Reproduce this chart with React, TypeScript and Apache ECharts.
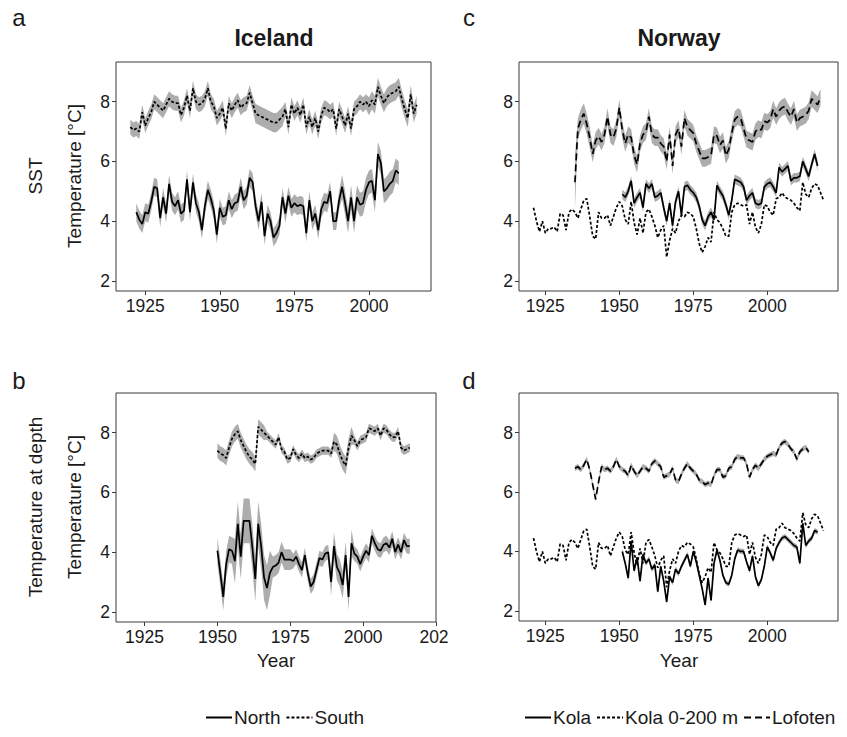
import React, { useEffect, useRef } from "react";
import * as echarts from "echarts";

const FONT = '"Liberation Sans", Arial, Helvetica, sans-serif';
const INK = "#1a1a1a";
const FRAME = "#3a3a3a";
const BAND = "#adadad";

// ---- Iceland, SST (panel a) ----
const icelandNorthSstStart = 1922;
const icelandNorthSst = [
  4.3, 4.05, 3.9, 4.3, 4.25, 4.65, 5.15, 5.1,
  4.1, 4.8, 4.25, 5.25, 4.65, 4.5, 4.7, 4.25, 4.35, 5.4,
  4.3, 5.3, 4.6, 4.3, 3.7, 4.5, 5.05, 4.75, 4.35, 3.55,
  4.45, 4.15, 4.2, 4.7, 4.4, 4.6, 4.65, 5.15, 4.7, 4.85,
  5.45, 5.3, 4.5, 4.0, 4.65, 3.5, 4.25, 4.0, 3.45, 3.6,
  3.85, 4.8, 4.25, 4.85, 4.45, 4.6, 4.5, 4.55, 4.5, 3.6,
  4.7, 4.0, 4.25, 3.7, 4.4, 4.65, 4.6, 5.0, 4.0, 4.0,
  4.7, 5.15, 4.6, 4.0, 4.8, 4.0, 4.8, 4.55, 4.6, 5.05,
  5.3, 5.35, 4.7, 6.25, 5.95, 5.0, 5.1, 5.25, 5.35, 5.7,
  5.6,
];
const icelandNorthSstSd = [[1922, 1990, 0.3], [1991, 2010, 0.4]];

const icelandSouthSstStart = 1920;
const icelandSouthSst = [
  7.15, 7.05, 7.1, 7.0, 7.65, 7.2, 7.45, 7.65, 8.0, 7.9,
  7.8, 7.7, 7.9, 8.1, 8.0, 7.95, 7.95, 7.55, 7.8, 8.2,
  7.7, 8.45, 8.0, 7.9, 7.95, 8.1, 8.45, 8.0, 7.85, 7.45,
  7.6, 7.8, 7.1, 7.95, 7.7, 7.9, 8.05, 7.8, 7.9, 7.95,
  8.3, 7.95, 7.6, 7.55, 7.5, 7.45, 7.4, 7.35, 7.3, 7.3,
  7.4, 7.5, 7.75, 7.15, 7.9, 7.6, 7.8, 7.55, 7.9, 7.15,
  7.5, 7.15, 7.45, 7.0, 7.55, 7.8, 7.75, 7.65, 7.75, 7.1,
  7.75, 7.5, 7.2, 7.6, 7.1, 7.75, 7.85, 8.0, 7.9, 8.0,
  7.85, 8.05, 7.9, 8.5, 8.2, 7.95, 8.15, 8.25, 8.3, 8.35,
  8.5, 8.1, 7.75, 7.45, 8.25, 7.6, 7.9,
];
const icelandSouthSstSd = [[1920, 1961, 0.25], [1962, 1971, 0.32], [1972, 1999, 0.25], [2000, 2016, 0.3]];

// ---- Iceland, temperature at depth (panel b) ----
const icelandNorthDepthStart = 1950;
const icelandNorthDepth = [
  4.05, 3.3, 2.5, 3.6, 4.1, 4.05, 3.7, 4.95, 3.85, 5.05,
  5.05, 5.05, 4.15, 3.1, 4.95, 4.2, 3.15, 2.8, 3.3, 3.5,
  3.55, 3.65, 4.0, 3.75, 3.75, 3.75, 3.7, 3.85, 3.6, 3.4,
  3.9, 3.3, 2.85, 3.0, 3.4, 3.8, 3.75, 3.95, 4.0, 3.0,
  4.2, 3.5, 3.3, 2.9, 3.9, 2.5, 4.3, 3.95, 3.85, 3.6,
  3.85, 4.05, 3.9, 4.55, 4.3, 4.1, 4.05, 4.25, 4.3, 4.15,
  4.45, 4.0, 4.25, 4.0, 4.4, 4.2, 4.2,
];
const icelandNorthDepthSd = [
  [1950, 1955, 0.45], [1956, 1968, 0.75], [1969, 1975, 0.35],
  [1976, 1988, 0.25], [1989, 1996, 0.45], [1997, 2016, 0.25],
];

const icelandSouthDepthStart = 1950;
const icelandSouthDepth = [
  7.4, 7.3, 7.25, 7.15, 7.5, 7.8, 7.95, 8.05, 7.75, 7.55,
  7.35, 7.2, 7.1, 6.95, 8.2, 8.1, 8.0, 7.9, 7.8, 7.7,
  7.6, 7.85, 7.45, 7.35, 7.1, 7.15, 7.45, 7.25, 7.15, 7.3,
  7.15, 7.2, 7.1, 7.15, 7.3, 7.35, 7.4, 7.4, 7.4, 7.3,
  7.7, 7.6, 7.3, 7.05, 6.9, 7.5, 7.9, 7.75, 7.55, 7.75,
  7.8, 7.85, 8.15, 8.1, 8.05, 8.15, 7.9, 8.15, 8.1, 7.95,
  7.85, 7.85, 8.05, 7.5, 7.4, 7.45, 7.5,
];
const icelandSouthDepthSd = [[1950, 1966, 0.25], [1967, 1989, 0.14], [1990, 1996, 0.3], [1997, 2016, 0.15]];

// ---- Norway, SST (panel c) ----
const kolaSstStart = 1951;
const kolaSst = [
  4.9, 4.8, 5.0, 5.35, 4.6, 4.8, 4.95, 4.45, 5.25, 5.1,
  5.25, 4.8, 4.85, 4.95, 4.45, 4.0, 4.6, 3.85, 4.65, 5.0,
  4.2, 5.15, 5.2, 5.05, 4.95, 4.8, 4.5, 4.05, 3.85, 4.15,
  4.3, 4.05, 5.2, 5.0, 4.85, 4.55, 4.2, 4.7, 5.4, 5.35,
  5.3, 5.15, 4.7, 4.85, 4.95, 4.6, 4.55, 4.6, 5.15, 5.25,
  5.3, 5.15, 4.95, 5.8, 5.65, 5.75, 5.85, 5.35, 5.45, 5.45,
  5.5, 6.0, 5.75, 5.5, 5.9, 6.25, 5.85,
];
const kolaSstSd = [[1951, 2017, 0.16]];

// Kola section 0-200 m, shown in both Norway panels
const kola0200Start = 1921;
const kola0200 = [
  4.45, 4.0, 3.65, 4.0, 3.6, 3.75, 3.75, 3.8, 3.65,
  4.25, 4.2, 3.7, 4.3, 4.4, 4.3, 4.1, 4.4, 4.7, 4.75,
  4.15, 3.5, 3.4, 4.3, 4.1, 4.1, 4.2, 3.85, 4.15, 4.45,
  4.65, 4.5, 4.05, 3.9, 4.65, 3.95, 3.55, 4.1, 3.6, 4.3,
  4.4, 4.15, 3.85, 3.45, 3.7, 3.85, 2.8, 3.35, 3.75, 3.6,
  4.0, 4.2, 4.15, 4.3, 4.25, 4.15, 3.75, 3.25, 2.95, 3.15,
  3.45, 3.3, 4.3, 4.05, 3.95, 3.75, 3.5, 3.5, 4.3, 4.55,
  4.6, 4.55, 4.5, 4.55, 3.9, 4.3, 3.8, 3.6, 3.9, 4.55,
  4.5, 4.3, 4.2, 4.75, 4.8, 4.95, 4.8, 4.75, 4.7, 4.6,
  4.45, 4.35, 5.3, 4.9, 4.8, 5.1, 5.25, 5.2, 4.95, 4.7,
];

const lofotenSstStart = 1935;
const lofotenSst = [
  5.3, 7.1, 7.4, 7.6, 7.25, 6.8,
  6.25, 6.7, 6.85, 6.65, 6.9, 7.5, 6.9, 6.8, 7.1, 7.8,
  7.05, 6.6, 6.9, 6.8, 6.2, 5.9, 6.6, 6.9, 7.0, 7.5,
  6.9, 6.8, 6.8, 6.6, 6.5, 6.0, 6.9, 5.85, 6.9, 7.1,
  6.5, 7.45, 7.15, 7.05, 6.95, 6.6, 6.35, 6.1, 6.1, 6.15,
  6.2, 6.9, 6.85, 6.55, 6.7, 6.2, 6.4, 6.95, 7.4, 7.5,
  7.45, 7.1, 6.75, 6.7, 6.65, 7.0, 7.1, 7.05, 7.35, 7.3,
  7.4, 7.75, 7.5, 7.7, 7.8, 7.85, 7.65, 7.5, 7.75, 7.3,
  7.45, 7.5, 7.55, 7.7, 8.1, 8.0, 7.9, 8.15,
];
const lofotenSstSd = [[1935, 1935, 0.9], [1936, 1940, 0.35], [1941, 2018, 0.28]];

// ---- Norway, temperature at depth (panel d) ----
const kolaDepthStart = 1951;
const kolaDepth = [
  4.0, 3.6, 3.1, 4.35, 3.35, 3.8, 3.0, 3.9, 3.6, 3.75,
  3.4, 3.55, 2.65, 3.5, 3.0, 2.3, 3.15, 2.95, 3.4, 3.25,
  3.5, 3.7, 3.9, 3.5, 4.0, 3.65, 3.2, 2.75, 2.2, 3.1,
  2.35, 3.6, 4.05, 3.7, 3.2, 2.95, 2.9, 3.2, 3.75, 4.05,
  4.0, 4.0, 3.65, 3.35, 3.85, 3.15, 2.85, 3.05, 3.5, 4.15,
  3.95, 3.7, 4.1, 4.3, 4.45, 4.5, 4.4, 4.3, 4.2, 4.15,
  3.6, 4.95, 4.2, 4.35, 4.45, 4.7, 4.65,
];
const kolaDepthSd = [[1951, 2017, 0.09]];

const lofotenDepthStart = 1935;
const lofotenDepth = [
  6.8, 6.85, 6.75, 6.9, 7.1,
  6.75, 6.25, 5.75, 6.35, 6.85, 6.75, 6.8, 6.7, 6.85, 7.1,
  6.85, 6.75, 6.7, 6.55, 6.9, 6.7, 6.55, 6.7, 6.85, 6.8,
  6.7, 6.95, 7.05, 6.95, 6.85, 6.5, 6.55, 6.6, 6.8, 6.4,
  6.35, 6.6, 6.8, 6.95, 6.8, 6.7, 6.6, 6.4, 6.35, 6.25,
  6.3, 6.25, 6.55, 6.75, 6.75, 6.5, 6.55, 6.8, 6.85, 7.1,
  7.2, 7.15, 7.15, 6.95, 6.5, 6.75, 6.9, 6.8, 6.95, 7.1,
  7.2, 7.25, 7.3, 7.25, 7.5, 7.65, 7.7, 7.6, 7.45, 7.35,
  7.1, 7.35, 7.45, 7.5, 7.35,
];
const lofotenDepthSd = [[1935, 2014, 0.09]];

// ---- axes ----
const yearTicks = [1925, 1950, 1975, 2000];
const yearTicksWide = [1925, 1950, 1975, 2000, 2025];
const tempTicks = [2, 4, 6, 8];

// panel layout: a, b, c, d
const grids = [
  { left: 116, top: 62, width: 315, height: 229 },
  { left: 116, top: 393, width: 320, height: 229 },
  { left: 519, top: 62, width: 319, height: 229 },
  { left: 519, top: 393, width: 319, height: 228 },
];
const xRanges = [
  [1915.2, 2020.8],
  [1915.2, 2025],
  [1916.1, 2023.9],
  [1916.1, 2023.9],
];
const yRange = [1.66, 9.33];

const SOLID = "solid";
const DOTTED = [3, 2];
const LONGDASH = [7, 4];
const LINE_W = 1.7;

function sdFor(segments: number[][], year: number) {
  for (const s of segments) if (year >= s[0] && year <= s[1]) return s[2];
  return 0;
}

function lineSeries(name: string, start: number, values: number[], grid: number, dash: any) {
  return {
    type: "line",
    name,
    xAxisIndex: grid,
    yAxisIndex: grid,
    data: values.map((v, i) => [start + i, v]),
    symbol: "none",
    z: 4,
    lineStyle: { color: "#000", width: LINE_W, type: dash },
    itemStyle: { color: "#000" },
  };
}

function bandSeries(start: number, values: number[], sd: number[][], grid: number) {
  const rows = values.map((v, i) => {
    const yr = start + i;
    const s = sdFor(sd, yr);
    return [yr, v - s, v + s];
  });
  return {
    type: "custom",
    xAxisIndex: grid,
    yAxisIndex: grid,
    silent: true,
    z: 2,
    data: rows,
    encode: { x: 0, y: [1, 2] },
    renderItem: (params: any, api: any) => {
      if (params.dataIndex !== 0) return null;
      const upper = rows.map((r) => api.coord([r[0], r[2]]));
      const lower = rows
        .slice()
        .reverse()
        .map((r) => api.coord([r[0], r[1]]));
      return {
        type: "polygon",
        shape: { points: upper.concat(lower) },
        style: { fill: BAND, stroke: null },
      };
    },
  };
}

function rotatedText(text: string, x: number, y: number, size: number) {
  return {
    type: "text",
    x,
    y,
    rotation: Math.PI / 2,
    style: {
      text,
      x: 0,
      y: 0,
      align: "center",
      verticalAlign: "middle",
      fontSize: size,
      fontFamily: FONT,
      fill: INK,
    },
  };
}

function plainText(text: string, x: number, y: number, size: number, weight = "normal") {
  return {
    type: "text",
    x,
    y,
    style: {
      text,
      x: 0,
      y: 0,
      align: "center",
      verticalAlign: "middle",
      fontSize: size,
      fontWeight: weight,
      fontFamily: FONT,
      fill: INK,
    },
  };
}

function buildOption() {
  const xAxis = grids.map((_, i) => {
    const ticks = i === 1 ? yearTicksWide : yearTicks;
    return {
      type: "value",
      gridIndex: i,
      min: xRanges[i][0],
      max: xRanges[i][1],
      splitLine: { show: false },
      axisLine: { show: false },
      axisTick: { show: true, length: 4, customValues: ticks, lineStyle: { color: FRAME, width: 1 } },
      axisLabel: {
        customValues: ticks,
        fontSize: 17.5,
        fontFamily: FONT,
        color: INK,
        margin: 6,
        formatter: (v: number) => (v === 2025 ? "{cut|202}" : String(v)),
        rich: { cut: { fontSize: 17.5, fontFamily: FONT, color: INK, padding: [0, 4, 0, 0] } },
      },
    };
  });
  const yAxis = grids.map((_, i) => ({
    type: "value",
    gridIndex: i,
    min: yRange[0],
    max: yRange[1],
    splitLine: { show: false },
    axisLine: { show: false },
    axisTick: { show: true, length: 4, customValues: tempTicks, lineStyle: { color: FRAME, width: 1 } },
    axisLabel: {
      customValues: tempTicks,
      fontSize: 17.5,
      fontFamily: FONT,
      color: INK,
      margin: 6,
    },
  }));

  const series: any[] = [
    // a
    bandSeries(icelandSouthSstStart, icelandSouthSst, icelandSouthSstSd, 0),
    bandSeries(icelandNorthSstStart, icelandNorthSst, icelandNorthSstSd, 0),
    lineSeries("North", icelandNorthSstStart, icelandNorthSst, 0, SOLID),
    lineSeries("South", icelandSouthSstStart, icelandSouthSst, 0, DOTTED),
    // b
    bandSeries(icelandSouthDepthStart, icelandSouthDepth, icelandSouthDepthSd, 1),
    bandSeries(icelandNorthDepthStart, icelandNorthDepth, icelandNorthDepthSd, 1),
    lineSeries("North", icelandNorthDepthStart, icelandNorthDepth, 1, SOLID),
    lineSeries("South", icelandSouthDepthStart, icelandSouthDepth, 1, DOTTED),
    // c
    bandSeries(lofotenSstStart, lofotenSst, lofotenSstSd, 2),
    bandSeries(kolaSstStart, kolaSst, kolaSstSd, 2),
    lineSeries("Kola", kolaSstStart, kolaSst, 2, SOLID),
    lineSeries("Kola 0-200 m", kola0200Start, kola0200, 2, DOTTED),
    lineSeries("Lofoten", lofotenSstStart, lofotenSst, 2, LONGDASH),
    // d
    bandSeries(lofotenDepthStart, lofotenDepth, lofotenDepthSd, 3),
    bandSeries(kolaDepthStart, kolaDepth, kolaDepthSd, 3),
    lineSeries("Kola", kolaDepthStart, kolaDepth, 3, SOLID),
    lineSeries("Kola 0-200 m", kola0200Start, kola0200, 3, DOTTED),
    lineSeries("Lofoten", lofotenDepthStart, lofotenDepth, 3, LONGDASH),
  ];

  const legendBase = {
    orient: "horizontal",
    top: 703,
    itemWidth: 26,
    itemHeight: 14,
    itemGap: 5,
    selectedMode: false,
    itemStyle: { opacity: 0, color: "rgba(0,0,0,0)", borderWidth: 0 },
    textStyle: { fontSize: 19, fontFamily: FONT, color: INK, padding: [0, 0, 0, -3] },
  };

  return {
    animation: false,
    backgroundColor: "#ffffff",
    grid: grids.map((g) => ({ ...g, show: true, borderColor: FRAME, borderWidth: 1, backgroundColor: "transparent", containLabel: false })),
    xAxis,
    yAxis,
    series,
    legend: [
      { ...legendBase, left: 200, data: ["North", "South"] },
      { ...legendBase, left: 519, data: ["Kola", "Kola 0-200 m", "Lofoten"] },
    ],
    graphic: [
      plainText("a", 19, 17, 24),
      plainText("b", 19, 380, 24),
      plainText("c", 469, 17, 24),
      plainText("d", 469, 380, 24),
      plainText("Iceland", 274, 38, 23, "bold"),
      plainText("Norway", 679, 38, 23, "bold"),
      rotatedText("SST", 35, 176, 19),
      rotatedText("Temperature at depth", 35, 507, 19),
      rotatedText("Temperature [°C]", 74, 176, 19),
      rotatedText("Temperature [°C]", 74, 507, 19),
      plainText("Year", 276, 660, 19),
      plainText("Year", 679, 660, 19),
    ],
  };
}

export default function App() {
  const ref = useRef<HTMLDivElement>(null);
  useEffect(() => {
    if (!ref.current) return;
    const chart = echarts.init(ref.current, undefined, { renderer: "svg" });
    chart.setOption(buildOption() as any);
    return () => chart.dispose();
  }, []);
  return (
    <div
      ref={ref}
      style={{ position: "absolute", left: 0, top: 0, width: 847, height: 737, background: "#fff" }}
    />
  );
}
